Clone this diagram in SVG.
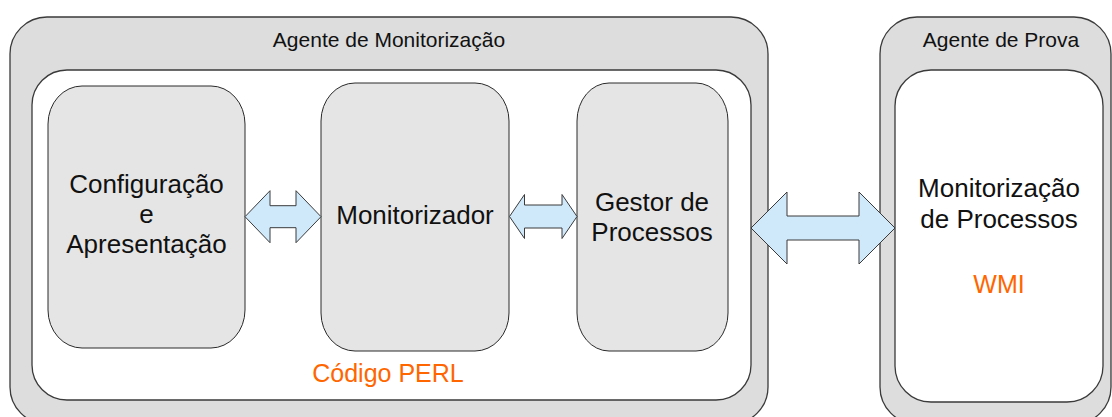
<svg xmlns="http://www.w3.org/2000/svg" width="1112" height="417" viewBox="0 0 1112 417">
  <style>
    .agent { fill: #dddddd; stroke: #3a3a3a; stroke-width: 1.3; }
    .panel { fill: #ffffff; stroke: #3a3a3a; stroke-width: 1.3; }
    .module { fill: #e5e5e5; stroke: #2a2a2a; stroke-width: 1; }
    .title { font-family: "Liberation Sans", Arial, sans-serif; font-size: 21px; fill: #111111; text-anchor: middle; }
    .label { font-family: "Liberation Sans", Arial, sans-serif; font-size: 26px; fill: #111111; text-anchor: middle; }
    .tech { font-family: "Liberation Sans", Arial, sans-serif; font-size: 25px; fill: #ff6600; text-anchor: middle; }
    .link { fill: #cfe9fb; stroke: #3a3a3a; stroke-width: 1; stroke-linejoin: miter; }
  </style>

  <!-- Monitoring agent container -->
  <g id="agente-monitorizacao">
    <rect class="agent" x="10" y="17" width="758" height="407" rx="37" ry="37"/>
    <text class="title" x="389" y="47">Agente de Monitorização</text>
    <rect class="panel" x="32" y="70" width="719" height="330" rx="35" ry="35"/>
    <text class="tech" x="388" y="382">Código PERL</text>
  </g>

  <g id="configuracao">
    <rect class="module" x="48" y="86" width="197" height="262" rx="34" ry="38"/>
    <text class="label" x="146.5" y="193">Configuração</text>
    <text class="label" x="146.5" y="223">e</text>
    <text class="label" x="146.5" y="253">Apresentação</text>
  </g>

  <g id="monitorizador">
    <rect class="module" x="321" y="83" width="188" height="268" rx="34" ry="38"/>
    <text class="label" x="415" y="224">Monitorizador</text>
  </g>

  <g id="gestor">
    <rect class="module" x="577" y="83" width="151" height="268" rx="32" ry="38"/>
    <text class="label" x="652" y="211">Gestor de</text>
    <text class="label" x="652" y="241">Processos</text>
  </g>

  <!-- Test agent container -->
  <g id="agente-prova">
    <rect class="agent" x="880" y="17" width="231" height="407" rx="37" ry="37"/>
    <text class="title" x="1001" y="47">Agente de Prova</text>
    <rect class="panel" x="895" y="70" width="208" height="332" rx="36" ry="36"/>
    <text class="label" x="999" y="197">Monitorização</text>
    <text class="label" x="999" y="228">de Processos</text>
    <text class="tech" x="999" y="293">WMI</text>
  </g>

  <!-- Bidirectional links -->
  <g id="connectors">
    <polygon class="link" points="245,216.7 270,190.7 270,205.7 296,205.7 296,190.7 321,216.7 296,242.7 296,227.7 270,227.7 270,242.7"/>
    <polygon class="link" points="509.5,216.5 524.5,194.5 524.5,205 562,205 562,194.5 577,216.5 562,238.5 562,228 524.5,228 524.5,238.5"/>
    <polygon class="link" points="751,228 787,192 787,216 859,216 859,192 895,228 859,264 859,240 787,240 787,264"/>
  </g>
</svg>
